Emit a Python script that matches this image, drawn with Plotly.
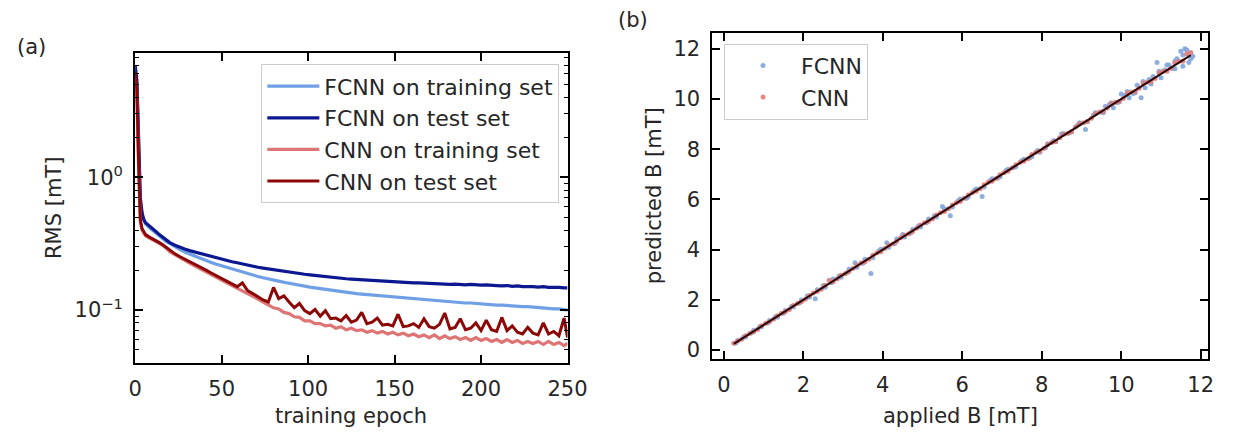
import plotly.graph_objects as go

# ---------------- data: panel (a) ----------------
epochs = [0, 1, 2, 3, 4, 5, 6, 8, 10, 12, 14, 16, 18] + list(range(20, 249, 3)) + [250]

fcnn_train = [
    6.5, 5.0, 1.8, 0.66, 0.52, 0.47, 0.445, 0.42, 0.40, 0.38, 0.36, 0.342, 0.328,
    0.318, 0.300, 0.285, 0.272, 0.262, 0.252, 0.243, 0.235, 0.228, 0.221,
    0.215, 0.209, 0.203, 0.198, 0.193, 0.188, 0.183, 0.179, 0.175, 0.171,
    0.168, 0.165, 0.162, 0.159, 0.156, 0.154, 0.151, 0.149, 0.147, 0.145,
    0.143, 0.141, 0.139, 0.138, 0.136, 0.135, 0.133, 0.132, 0.131, 0.129,
    0.128, 0.127, 0.126, 0.125, 0.124, 0.123, 0.122, 0.121, 0.120, 0.119,
    0.118, 0.118, 0.117, 0.116, 0.115, 0.115, 0.114, 0.113, 0.113, 0.112,
    0.111, 0.111, 0.110, 0.109, 0.109, 0.108, 0.107, 0.107, 0.106, 0.106,
    0.105, 0.104, 0.104, 0.103, 0.102, 0.102, 0.101,
    0.100,
]
fcnn_test = [
    7.0, 5.4, 2.0, 0.70, 0.54, 0.48, 0.455, 0.43, 0.41, 0.39, 0.37, 0.352, 0.338,
    0.322, 0.308, 0.296, 0.287, 0.279, 0.272, 0.266, 0.259, 0.253, 0.247,
    0.241, 0.236, 0.231, 0.227, 0.222, 0.218, 0.214, 0.210, 0.207, 0.204,
    0.201, 0.198, 0.196, 0.193, 0.190, 0.188, 0.186, 0.184, 0.182, 0.180,
    0.178, 0.177, 0.176, 0.174, 0.172, 0.171, 0.170, 0.168, 0.168, 0.166,
    0.165, 0.165, 0.163, 0.164, 0.162, 0.161, 0.161, 0.160, 0.160, 0.159,
    0.158, 0.159, 0.157, 0.157, 0.156, 0.157, 0.155, 0.155, 0.156, 0.154,
    0.154, 0.155, 0.153, 0.153, 0.152, 0.153, 0.151, 0.152, 0.150, 0.151,
    0.150, 0.149, 0.150, 0.148, 0.149, 0.148, 0.147,
    0.147,
]
cnn_train = [
    5.8, 4.2, 1.2, 0.46, 0.40, 0.375, 0.362, 0.350, 0.340, 0.330, 0.318, 0.305, 0.293,
    0.275, 0.260, 0.247, 0.236, 0.224, 0.213, 0.203, 0.194, 0.185, 0.176,
    0.168, 0.160, 0.153, 0.146, 0.140, 0.133, 0.127, 0.121, 0.115, 0.110,
    0.104, 0.102, 0.096, 0.094, 0.089, 0.088, 0.083, 0.083, 0.079, 0.079,
    0.076, 0.077, 0.073, 0.075, 0.071, 0.073, 0.070, 0.071, 0.068, 0.070,
    0.067, 0.069, 0.066, 0.068, 0.065, 0.067, 0.064, 0.066, 0.063, 0.065,
    0.062, 0.065, 0.061, 0.064, 0.061, 0.063, 0.060, 0.062, 0.059, 0.062,
    0.059, 0.061, 0.058, 0.060, 0.057, 0.060, 0.057, 0.059, 0.056, 0.058,
    0.056, 0.058, 0.055, 0.058, 0.055, 0.057, 0.054,
    0.056,
]
cnn_test = [
    6.2, 4.5, 1.3, 0.48, 0.41, 0.385, 0.370, 0.356, 0.345, 0.335, 0.322, 0.310, 0.297,
    0.280, 0.265, 0.252, 0.241, 0.228, 0.219, 0.208, 0.200, 0.190, 0.181,
    0.172, 0.166, 0.158, 0.150, 0.160, 0.140, 0.133, 0.126, 0.119, 0.115,
    0.148, 0.122, 0.128, 0.115, 0.104, 0.112, 0.099, 0.094, 0.101, 0.090,
    0.099, 0.086, 0.087, 0.083, 0.091, 0.081, 0.084, 0.096, 0.079, 0.081,
    0.087, 0.077, 0.078, 0.076, 0.093, 0.075, 0.076, 0.079, 0.074, 0.086,
    0.075, 0.073, 0.078, 0.095, 0.072, 0.074, 0.086, 0.071, 0.073, 0.080,
    0.070, 0.084, 0.071, 0.069, 0.088, 0.070, 0.076, 0.068, 0.066, 0.074,
    0.067, 0.065, 0.080, 0.066, 0.069, 0.064, 0.087,
    0.062,
]

# ---------------- data: panel (b) ----------------
applied_fcnn_a = [0.3, 0.5, 0.7, 0.9, 1.1, 1.3, 1.5, 1.7, 1.9, 2.1, 2.3, 2.5, 2.7, 2.9, 3.1, 3.3, 3.5, 3.7,
                  3.9, 4.1, 4.3, 4.5, 4.7, 4.9, 5.1, 5.3, 5.5, 5.7, 5.9, 6.1, 6.3, 6.5, 6.7, 6.9, 7.1, 7.3,
                  7.5, 7.7, 7.9, 8.1, 8.3, 8.5, 8.7, 8.9, 9.1, 9.3, 9.5, 9.7, 9.9, 10.1, 10.3, 10.5, 10.7,
                  10.9, 11.1, 11.3, 11.5, 11.7,
                  9.6, 9.8, 10.0, 10.2, 10.4, 10.6, 10.8, 11.0, 11.2, 11.4, 11.6, 11.8, 11.65, 11.55, 11.35]
pred_fcnn_a = [0.28, 0.52, 0.69, 0.93, 1.08, 1.33, 1.47, 1.74, 1.88, 2.15, 2.05, 2.56, 2.68, 2.95, 3.08, 3.48,
               3.46, 3.05, 3.95, 4.28, 4.25, 4.60, 4.66, 4.95, 5.07, 5.35, 5.72, 5.35, 5.95, 6.05, 6.35, 6.12,
               6.74, 6.86, 7.15, 7.28, 7.55, 7.66, 7.95, 8.07, 8.35, 8.62, 8.66, 8.95, 8.78, 9.36, 9.48, 9.78,
               9.86, 10.15, 10.22, 10.05, 10.78, 11.45, 11.15, 11.22, 11.90, 11.45,
               9.70, 9.65, 10.20, 10.05, 10.55, 10.45, 10.90, 10.85, 11.35, 11.60, 12.00, 11.70, 11.95, 11.30, 11.50]
applied_fcnn_b = [0.35, 0.55, 0.75, 0.95, 1.15, 1.35, 1.55, 1.75, 1.95, 2.15,
                  2.35, 2.55, 2.75, 2.95, 3.15, 3.35, 3.55, 3.75, 3.95, 4.15,
                  4.35, 4.55, 4.75, 4.95, 5.15, 5.35, 5.55, 5.75, 5.95, 6.15,
                  6.35, 6.55, 6.75, 6.95, 7.15, 7.35, 7.55, 7.75, 7.95, 8.15,
                  8.35, 8.55, 8.75, 8.95, 9.15, 9.35, 9.55, 9.75, 9.95, 10.15,
                  10.35, 10.55, 10.75, 10.95, 11.15, 11.35, 11.55, 11.75]
pred_fcnn_b = [0.38, 0.52, 0.79, 0.93, 1.18, 1.31, 1.58, 1.72, 2.00, 2.10,
               2.40, 2.50, 2.83, 2.90, 3.22, 3.30, 3.62, 3.68, 4.02, 4.10,
               4.42, 4.50, 4.80, 4.90, 5.22, 5.30, 5.62, 5.70, 6.02, 6.10,
               6.42, 6.50, 6.82, 6.90, 7.20, 7.30, 7.60, 7.70, 7.88, 8.22,
               8.30, 8.62, 8.70, 9.05, 9.10, 9.45, 9.45, 9.85, 9.88, 10.30,
               10.25, 10.70, 10.60, 11.10, 11.35, 11.20, 11.75, 11.60]

applied_cnn_a = [0.25, 0.45, 0.65, 0.85, 1.05, 1.25, 1.45, 1.65, 1.85, 2.05, 2.25, 2.45, 2.65, 2.85, 3.05,
                 3.25, 3.45, 3.65, 3.85, 4.05, 4.25, 4.45, 4.65, 4.85, 5.05, 5.25, 5.45, 5.65, 5.85, 6.05,
                 6.25, 6.45, 6.65, 6.85, 7.05, 7.25, 7.45, 7.65, 7.85, 8.05, 8.25, 8.45, 8.65, 8.85, 9.05,
                 9.25, 9.45, 9.65, 9.85, 10.05, 10.25, 10.45, 10.65, 10.85, 11.05, 11.25, 11.45, 11.65]
pred_cnn_a = [0.27, 0.43, 0.66, 0.82, 1.07, 1.23, 1.47, 1.62, 1.86, 2.03,
              2.27, 2.42, 2.78, 2.83, 3.04, 3.25, 3.47, 3.62, 3.87, 4.05,
              4.23, 4.47, 4.63, 4.85, 5.07, 5.22, 5.47, 5.63, 5.87, 6.05,
              6.27, 6.43, 6.68, 6.83, 7.06, 7.25, 7.47, 7.62, 7.88, 8.03,
              8.27, 8.46, 8.63, 8.88, 9.05, 9.23, 9.48, 9.64, 9.87, 10.02,
              10.28, 10.43, 10.67, 10.82, 11.10, 11.22, 11.50, 11.80]
applied_cnn_b = applied_fcnn_b
pred_cnn_b = [0.36, 0.57, 0.73, 0.97, 1.13, 1.37, 1.53, 1.78, 1.93, 2.17,
              2.33, 2.58, 2.72, 2.98, 3.13, 3.38, 3.52, 3.78, 3.92, 4.18,
              4.33, 4.57, 4.72, 4.98, 5.13, 5.38, 5.52, 5.78, 5.92, 6.18,
              6.33, 6.58, 6.72, 6.98, 7.12, 7.38, 7.52, 7.79, 7.92, 8.19,
              8.31, 8.60, 8.70, 9.00, 9.10, 9.41, 9.50, 9.81, 9.90, 10.22,
              10.30, 10.62, 10.70, 11.03, 11.10, 11.43, 11.50, 11.85]

ideal_x = [0.25, 11.75]
ideal_y = [0.25, 11.75]

for s in (fcnn_train, fcnn_test, cnn_train, cnn_test):
    assert len(s) == len(epochs), (len(s), len(epochs))
assert len(applied_fcnn_a) == len(pred_fcnn_a)
assert len(applied_fcnn_b) == len(pred_fcnn_b)
assert len(applied_cnn_a) == len(pred_cnn_a)
assert len(applied_cnn_b) == len(pred_cnn_b)

applied_fcnn = applied_fcnn_a + applied_fcnn_b
pred_fcnn = pred_fcnn_a + pred_fcnn_b
applied_cnn = applied_cnn_a + applied_cnn_b
pred_cnn = pred_cnn_a + pred_cnn_b

# ---------------- figure ----------------
W, H = 1241, 432
FONT = "DejaVu Sans"
TXT = "#262626"
FS = 21


def fx(p):
    return p / W


def fy(p):
    return 1 - p / H


fig = go.Figure()

series_a = [
    ("FCNN on training set", fcnn_train, "#6f9fe4", 3.2),
    ("FCNN on test set", fcnn_test, "#0c1890", 3.2),
    ("CNN on training set", cnn_train, "#de7474", 3.2),
    ("CNN on test set", cnn_test, "#8c0808", 3.0),
]
for i, (name, vals, col, w) in enumerate(series_a):
    fig.add_trace(go.Scatter(x=epochs, y=vals, mode="lines", name=name,
                             line=dict(color=col, width=w), legendgroup="a%d" % i,
                             xaxis="x", yaxis="y", legend="legend"))

fig.add_trace(go.Scatter(x=applied_fcnn, y=pred_fcnn, mode="markers", name="FCNN",
                         marker=dict(color="#7fa6dc", size=5, opacity=0.9), legendgroup="b0",
                         xaxis="x2", yaxis="y2", legend="legend2"))
fig.add_trace(go.Scatter(x=applied_cnn, y=pred_cnn, mode="markers", name="CNN",
                         marker=dict(color="#e07b7b", size=5, opacity=0.9), legendgroup="b1",
                         xaxis="x2", yaxis="y2", legend="legend2"))
fig.add_trace(go.Scatter(x=ideal_x, y=ideal_y, mode="lines", showlegend=False,
                         line=dict(color="#2a0808", width=2),
                         xaxis="x2", yaxis="y2"))

axis_common = dict(showline=True, linecolor="black", linewidth=2, mirror="allticks",
                   ticks="inside", ticklen=8, tickwidth=1.5, tickcolor="black",
                   showgrid=False, zeroline=False,
                   tickfont=dict(family=FONT, size=FS, color=TXT))

legend_common = dict(xanchor="left", yanchor="top",
                     bgcolor="rgba(255,255,255,0.85)", bordercolor="#cccccc", borderwidth=1,
                     font=dict(family=FONT, size=22, color=TXT), tracegroupgap=0)

fig.update_layout(
    width=W, height=H,
    margin=dict(l=0, r=0, t=0, b=0),
    paper_bgcolor="white", plot_bgcolor="white",
    font=dict(family=FONT, size=FS, color=TXT),
    xaxis=dict(domain=[fx(131), fx(573)], range=[0, 250], anchor="y",
               tickmode="array", tickvals=[0, 50, 100, 150, 200, 250],
               ticklabelstandoff=6, **axis_common),
    yaxis=dict(domain=[fy(366), fy(53)], type="log", range=[-1.396, 0.94], anchor="x",
               tickmode="array", tickvals=[0.1, 1],
               ticktext=["10<sup>\u22121</sup>", "10<sup>0</sup>"],
               ticklabelstandoff=6,
               minor=dict(ticks="inside", ticklen=4, tickwidth=1, tickcolor="black",
                          tickmode="array",
                          tickvals=[0.05, 0.06, 0.07, 0.08, 0.09, 0.2, 0.3, 0.4, 0.5,
                                    0.6, 0.7, 0.8, 0.9, 2, 3, 4, 5, 6, 7, 8],
                          showgrid=False),
               **axis_common),
    xaxis2=dict(domain=[fx(721), fx(1228)], range=[-0.29, 12.19], anchor="y2",
                tickmode="array", tickvals=[0, 2, 4, 6, 8, 10, 12],
                ticklabelstandoff=6, **axis_common),
    yaxis2=dict(domain=[fy(362), fy(33)], range=[-0.34, 12.64], anchor="x2",
                tickmode="array", tickvals=[0, 2, 4, 6, 8, 10, 12],
                ticklabelstandoff=6, **axis_common),
    legend=dict(x=fx(260), y=fy(65), itemwidth=52, **legend_common),
    legend2=dict(x=fx(733), y=fy(44), itemwidth=66, **legend_common),
    showlegend=True,
)

annots = [
    ("(a)", 25, 47, 0),
    ("(b)", 640, 20, 0),
    ("training epoch", 352, 420, 0),
    ("RMS [mT]", 48, 210, -90),
    ("applied B [mT]", 974.5, 420, 0),
    ("predicted B [mT]", 661, 197.5, -90),
]
for text, px, py, ang in annots:
    fig.add_annotation(text=text, x=fx(px), y=fy(py), xref="paper", yref="paper",
                       xanchor="center", yanchor="middle", showarrow=False, textangle=ang,
                       font=dict(family=FONT, size=FS, color=TXT))

fig.write_html("out.html")
